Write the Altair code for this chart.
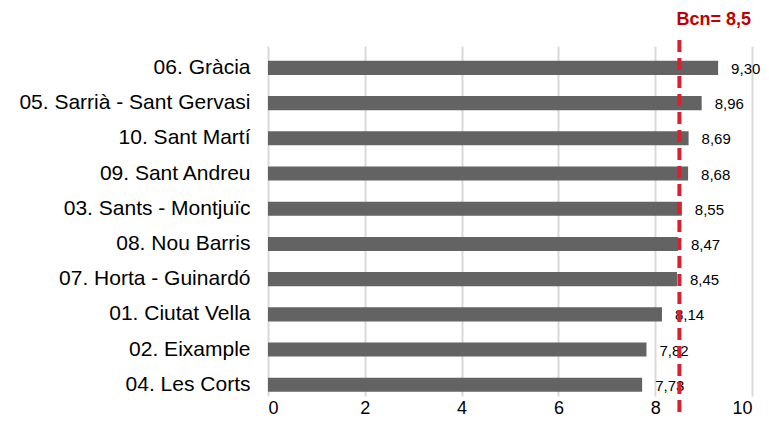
import altair as alt
import pandas as pd

districts = ["06. Gràcia", "05. Sarrià - Sant Gervasi", "10. Sant Martí", "09. Sant Andreu",
             "03. Sants - Montjuïc", "08. Nou Barris", "07. Horta - Guinardó", "01. Ciutat Vella",
             "02. Eixample", "04. Les Corts"]
values = [9.30, 8.96, 8.69, 8.68, 8.55, 8.47, 8.45, 8.14, 7.82, 7.73]
labels = ["9,30", "8,96", "8,69", "8,68", "8,55", "8,47", "8,45", "8,14", "7,82", "7,73"]
bcn_value = 8.5
bcn_label = "Bcn= 8,5"

df = pd.DataFrame({"district": districts, "value": values, "label": labels})
ref = pd.DataFrame({"x": [bcn_value], "label": [bcn_label]})

FONT = "Liberation Sans"

y_enc = alt.Y("district:N", sort=districts, title=None,
              scale=alt.Scale(paddingInner=0.6, paddingOuter=0.27, align=0.78),
              axis=alt.Axis(domain=False, ticks=False, labelFontSize=21, labelFont=FONT,
                            labelColor="#000000", labelPadding=18, labelLimit=320))
x_enc = alt.X("value:Q", title=None, scale=alt.Scale(domain=[0, 10], nice=False),
              axis=alt.Axis(values=[0, 2, 4, 6, 8, 10], domain=False, ticks=False,
                            grid=True, gridColor="#d9d9d9", gridWidth=2,
                            labelFontSize=18, labelFont=FONT, labelColor="#000000",
                            labelPadding=3))

bars = alt.Chart(df).mark_bar(color="#636363").encode(x=x_enc, y=y_enc)

text = alt.Chart(df).mark_text(align="left", dx=13, dy=1, fontSize=15, font=FONT, color="#000000").encode(
    x="value:Q", y=alt.Y("district:N", sort=districts), text="label:N")

rule = alt.Chart(ref).mark_rule(color="#d9202e", strokeWidth=4, strokeDash=[12, 6]).encode(
    x="x:Q", y=alt.value(-6), y2=alt.value(369))

ref_text = alt.Chart(ref).mark_text(align="left", baseline="alphabetic", dx=-3, fontSize=18,
                                    fontWeight="bold", font=FONT, color="#c00000").encode(
    x="x:Q", y=alt.value(-21), text="label:N")

chart = alt.layer(bars, text, rule, ref_text).properties(
    width=484, height=350,
    padding={"left": 260, "top": 38, "right": 9, "bottom": 26},
    autosize=alt.AutoSizeParams(type="none")
).configure_view(stroke=None)

chart.save("out.html", embed_options={"renderer": "svg", "actions": False})
